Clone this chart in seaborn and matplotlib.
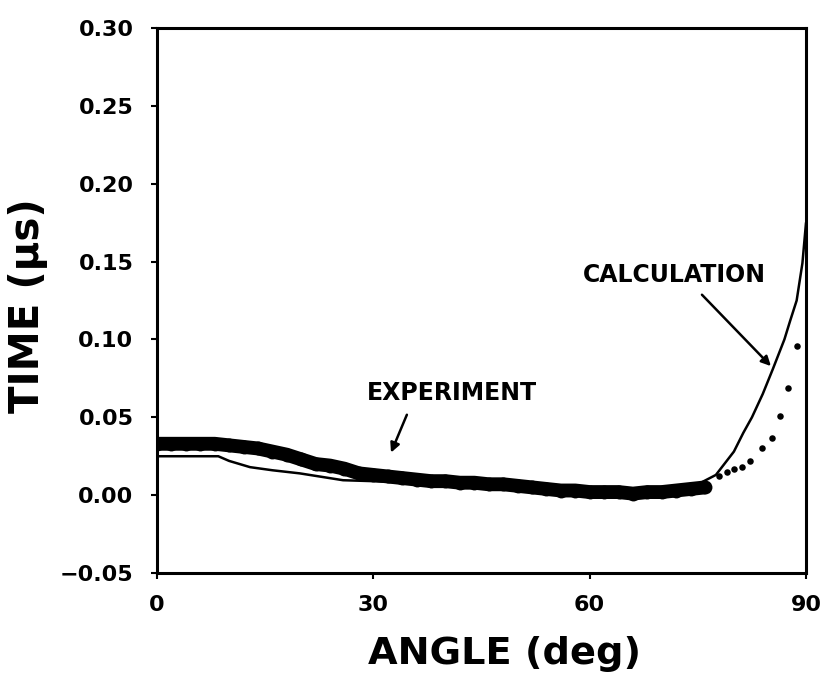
import numpy as np
import pandas as pd
import matplotlib
matplotlib.use("Agg")
import matplotlib.pyplot as plt
import seaborn as sns

# ---- data ----
exp_angle = [0, 2, 4, 6, 8, 10, 12, 14, 16, 18, 20, 22, 24, 26, 28, 30, 32, 34, 36, 38,
             40, 42, 44, 46, 48, 50, 52, 54, 56, 58, 60, 62, 64, 66, 68, 70, 72, 74, 76]
exp_time = [0.033, 0.033, 0.033, 0.033, 0.033, 0.032, 0.031, 0.030, 0.028, 0.026,
            0.023, 0.020, 0.019, 0.017, 0.014, 0.013, 0.012, 0.011, 0.010, 0.009,
            0.009, 0.008, 0.008, 0.007, 0.007, 0.006, 0.005, 0.004, 0.003, 0.003,
            0.002, 0.002, 0.002, 0.001, 0.002, 0.002, 0.003, 0.004, 0.005]
tail_angle = [78.0, 79.0, 80.0, 81.1, 82.2, 83.9, 85.3, 86.4, 87.5, 88.7]
tail_time = [0.012, 0.015, 0.017, 0.018, 0.022, 0.030, 0.037, 0.051, 0.069, 0.096]

calc_angle = [0, 8.5, 10, 12.9, 16, 19.8, 25.8, 30, 40, 50, 60, 70, 75, 77.5, 80,
              81.3, 82.5, 84, 85.4, 87, 87.8, 88.7, 89.5, 90]
calc_time = [0.025, 0.025, 0.022, 0.018, 0.016, 0.014, 0.0096, 0.009, 0.007, 0.005,
             0.003, 0.004, 0.007, 0.013, 0.028, 0.040, 0.050, 0.065, 0.081, 0.100,
             0.112, 0.125, 0.149, 0.175]

x_ticks = [0, 30, 60, 90]
y_ticks = [-0.05, 0.00, 0.05, 0.10, 0.15, 0.20, 0.25, 0.30]
y_tick_labels = ["\u22120.05", "0.00", "0.05", "0.10", "0.15", "0.20", "0.25", "0.30"]

sns.set_theme(style="ticks")
plt.rcParams['font.family'] = ['DejaVu Sans']
plt.rcParams['font.weight'] = 'bold'

fig = plt.figure(figsize=(8.25, 6.83), dpi=100)
ax = fig.add_axes([0.1903, 0.161, 0.7867, 0.798])

exp_df = pd.DataFrame({"angle": exp_angle, "time": exp_time})
tail_df = pd.DataFrame({"angle": tail_angle, "time": tail_time})
calc_df = pd.DataFrame({"angle": calc_angle, "time": calc_time})

# experiment: dense thick band
sns.lineplot(data=exp_df, x="angle", y="time", ax=ax, color="black", lw=10,
             sort=False, estimator=None, solid_capstyle="butt")
sns.scatterplot(data=exp_df, x="angle", y="time", ax=ax, color="black", s=100,
                marker="o", edgecolor="black", linewidth=0)
sns.scatterplot(data=tail_df, x="angle", y="time", ax=ax, color="black", s=22,
                marker="o", edgecolor="black", linewidth=0)
# calculation
sns.lineplot(data=calc_df, x="angle", y="time", ax=ax, color="black", lw=1.8,
             sort=False, estimator=None)

ax.set_xlim(0, 90)
ax.set_ylim(-0.05, 0.30)
ax.set_xticks(x_ticks)
ax.set_xticklabels([str(t) for t in x_ticks])
ax.set_yticks(y_ticks)
ax.set_yticklabels(y_tick_labels)

for sp in ax.spines.values():
    sp.set_visible(True)
    sp.set_linewidth(2.2)
    sp.set_color("black")
ax.tick_params(direction="out", length=4, width=1.5, colors="black",
               labelsize=16, pad=12)
ax.tick_params(axis="y", pad=13)
for lab in ax.get_xticklabels() + ax.get_yticklabels():
    lab.set_fontweight("bold")

ax.set_xlabel("ANGLE (deg)", fontsize=27.5, color="black", fontweight="bold")
ax.xaxis.set_label_coords(0.535, -0.115)
ax.set_ylabel("TIME (\u03bcs)", fontsize=29, color="black", fontweight="bold")
ax.yaxis.set_label_coords(-0.168, 0.49)

ax.text(40.9, 0.0655, "EXPERIMENT", fontsize=17, ha="center", va="center",
        fontweight="bold", color="black")
ax.annotate("", xy=(32.3, 0.0257), xytext=(34.8, 0.0533),
            arrowprops=dict(arrowstyle="-|>", color="black", lw=1.8,
                            mutation_scale=14))
ax.text(71.8, 0.1413, "CALCULATION", fontsize=17, ha="center", va="center",
        fontweight="bold", color="black")
ax.annotate("", xy=(85.4, 0.0816), xytext=(75.3, 0.130),
            arrowprops=dict(arrowstyle="-|>", color="black", lw=1.8,
                            mutation_scale=14))

fig.savefig("out.png", dpi=100)
